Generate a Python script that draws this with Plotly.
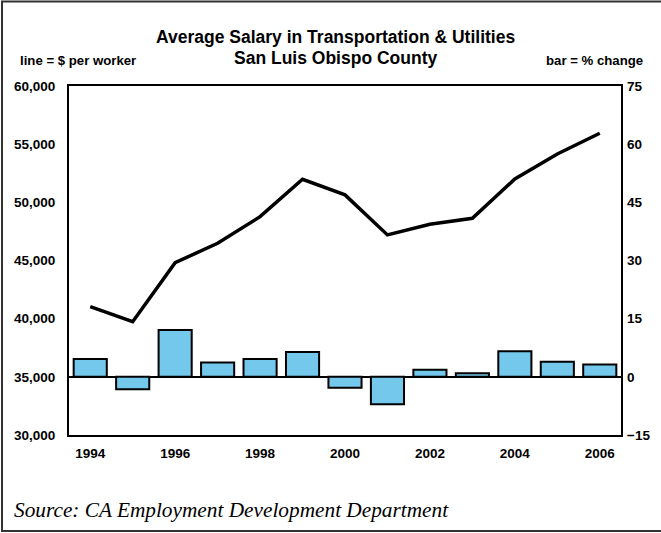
import plotly.graph_objects as go

years = list(range(1994, 2007))
salary = [41030, 39740, 44815, 46480, 48770, 51985, 50640, 47200, 48120, 48630, 52010, 54160, 55940]
pct_change = [4.6, -3.2, 12.1, 3.7, 4.6, 6.4, -2.8, -7.1, 1.8, 0.9, 6.6, 3.9, 3.2]
x_ticks = [1994, 1996, 1998, 2000, 2002, 2004, 2006]
left_ticks = [30000, 35000, 40000, 45000, 50000, 55000, 60000]
right_ticks = [-15, 0, 15, 30, 45, 60, 75]

W, H = 661, 533
L, R, T, B = 69, 621, 86, 435
pw, ph = R - L, B - T

def px(x):
    return (x - L) / pw

def py(y):
    return (B - y) / ph

FONT = "Liberation Sans, Arial, sans-serif"
TICKFONT = dict(family=FONT, size=13.5, color="#000000", weight="bold")

fig = go.Figure()
fig.add_trace(go.Bar(
    x=years, y=pct_change, yaxis="y2",
    marker=dict(color="#74C8EC", line=dict(color="#000000", width=2)),
    showlegend=False,
))
fig.add_trace(go.Scatter(
    x=years, y=salary, mode="lines",
    line=dict(color="#000000", width=3.5),
    showlegend=False,
))

fig.update_layout(
    width=W, height=H,
    margin=dict(l=L, r=W - R, t=T, b=H - B),
    paper_bgcolor="white", plot_bgcolor="white",
    bargap=0.22,
    font=dict(family=FONT, size=13, color="#000000"),
    xaxis=dict(
        range=[1993.5, 2006.5], tickvals=x_ticks, ticktext=[str(v) for v in x_ticks],
        showgrid=False, zeroline=False, showline=True, mirror=True,
        linecolor="#000000", linewidth=2, ticks="", ticklabelstandoff=5,
        tickfont=TICKFONT,
    ),
    yaxis=dict(
        range=[30000, 60000], tickvals=left_ticks, tickformat=",",
        showgrid=False, zeroline=False, showline=True, mirror=True,
        linecolor="#000000", linewidth=2, ticks="", ticklabelstandoff=9,
        tickfont=TICKFONT,
    ),
    yaxis2=dict(
        range=[-15, 75], tickvals=right_ticks, overlaying="y", side="right",
        showgrid=False, zeroline=True, zerolinecolor="#000000", zerolinewidth=2,
        showline=False, ticks="", ticklabelstandoff=5,
        tickfont=TICKFONT,
    ),
)

ann = [
    dict(text="<b>Average Salary in Transportation & Utilities</b>", x=px(335), y=py(37),
         xanchor="center", yanchor="middle", font=dict(size=17.5)),
    dict(text="<b>San Luis Obispo County</b>", x=px(335), y=py(58),
         xanchor="center", yanchor="middle", font=dict(size=17.5)),
    dict(text="<b>line = $ per worker</b>", x=px(18), y=py(61),
         xanchor="left", yanchor="middle", font=dict(size=13.2)),
    dict(text="<b>bar = % change</b>", x=px(645), y=py(61),
         xanchor="right", yanchor="middle", font=dict(size=13.2)),
    dict(text="<i>Source: CA Employment Development Department</i>", x=px(12), y=py(510),
         xanchor="left", yanchor="middle",
         font=dict(size=21.3, family="Liberation Serif, Times New Roman, serif")),
]
for a in ann:
    a.update(xref="paper", yref="paper", showarrow=False)
    a["font"].setdefault("family", FONT)
    a["font"]["color"] = "#000000"
fig.update_layout(annotations=ann)

fig.add_shape(type="rect", xref="paper", yref="paper",
              x0=px(2), x1=px(680), y0=py(531), y1=py(1.5),
              line=dict(color="#333333", width=2), fillcolor="rgba(0,0,0,0)", layer="above")

fig.write_html("out.html", config={"displayModeBar": False},
               post_script="document.body.style.margin='0';")
